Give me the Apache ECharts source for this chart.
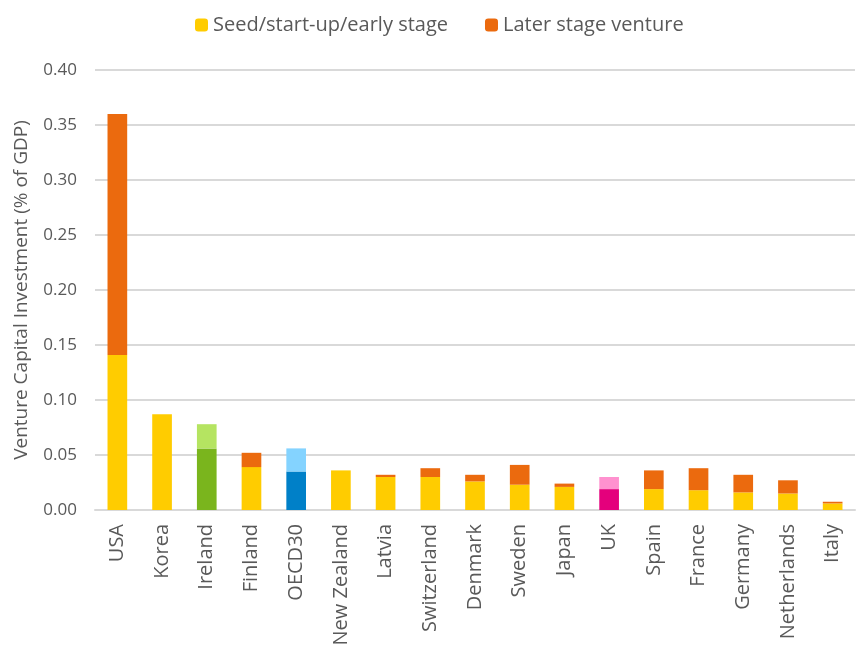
<!DOCTYPE html>
<html>
<head>
    <meta charset="utf-8" />
    <title>Venture capital investment</title>
    <script src="https://cdn.jsdelivr.net/npm/echarts@6/dist/echarts.min.js"></script>
</head>
<body style="margin:0;">
    <div id="main" style="width:859px;height:646px;"></div>
    <script>
        // data (% of GDP)
        var countries = ['USA', 'Korea', 'Ireland', 'Finland', 'OECD30', 'New Zealand', 'Latvia', 'Switzerland',
            'Denmark', 'Sweden', 'Japan', 'UK', 'Spain', 'France', 'Germany', 'Netherlands', 'Italy'];
        var seedEarly = [0.141, 0.087, 0.056, 0.039, 0.035, 0.036, 0.030, 0.030,
            0.026, 0.023, 0.021, 0.019, 0.019, 0.018, 0.016, 0.015, 0.006];
        var laterStage = [0.219, 0.000, 0.022, 0.013, 0.021, 0.000, 0.002, 0.008,
            0.006, 0.018, 0.003, 0.011, 0.017, 0.020, 0.016, 0.012, 0.0015];
        var yTicks = [0, 0.05, 0.10, 0.15, 0.20, 0.25, 0.30, 0.35, 0.40];

        // highlighted countries get their own colours
        var highlight = {
            'Ireland': ['#7ab51d', '#b5e461'],
            'OECD30': ['#0080c8', '#84d3ff'],
            'UK': ['#e4007c', '#ff91cf']
        };
        var seedColor = '#ffcc00';
        var laterColor = '#eb6a0e';

        function buildData(values, idx) {
            return values.map(function (v, i) {
                var h = highlight[countries[i]];
                if (h) {
                    return { value: v, itemStyle: { color: h[idx] } };
                }
                return v;
            });
        }

        var chart = echarts.init(document.getElementById('main'));
        var option = {
            animation: false,
            textStyle: { fontFamily: 'Open Sans', color: '#595959' },
            legend: {
                top: 10,
                left: 190,
                itemWidth: 13,
                itemHeight: 13,
                itemGap: 37,
                textStyle: { fontSize: 20, color: '#595959', fontFamily: 'Open Sans' },
                data: [
                    { name: 'Seed/start-up/early stage', itemStyle: { color: seedColor } },
                    { name: 'Later stage venture', itemStyle: { color: laterColor } }
                ]
            },
            grid: { left: 95, right: 4, top: 70, bottom: 136, outerBoundsMode: 'none' },
            xAxis: {
                type: 'category',
                data: countries,
                axisLine: { lineStyle: { color: '#d9d9d9', width: 2 } },
                axisTick: { show: false },
                axisLabel: {
                    rotate: 90,
                    interval: 0,
                    margin: 14,
                    fontSize: 20,
                    color: '#595959',
                    fontFamily: 'Open Sans'
                }
            },
            yAxis: {
                type: 'value',
                min: yTicks[0],
                max: yTicks[yTicks.length - 1],
                interval: 0.05,
                name: 'Venture Capital Investment (% of GDP)',
                nameLocation: 'middle',
                nameGap: 64,
                nameTextStyle: { fontSize: 19, color: '#595959', fontFamily: 'Open Sans' },
                axisLine: { show: false },
                axisTick: { show: false },
                axisLabel: {
                    margin: 18,
                    fontSize: 17,
                    color: '#595959',
                    formatter: function (v) { return v.toFixed(2); }
                },
                splitLine: { lineStyle: { color: '#d9d9d9', width: 2 } }
            },
            series: [
                {
                    name: 'Seed/start-up/early stage',
                    type: 'bar',
                    stack: 'vc',
                    barWidth: '44%',
                    itemStyle: { color: seedColor },
                    data: buildData(seedEarly, 0)
                },
                {
                    name: 'Later stage venture',
                    type: 'bar',
                    stack: 'vc',
                    itemStyle: { color: laterColor },
                    data: buildData(laterStage, 1)
                }
            ]
        };
        chart.setOption(option);
    </script>
</body>
</html>
